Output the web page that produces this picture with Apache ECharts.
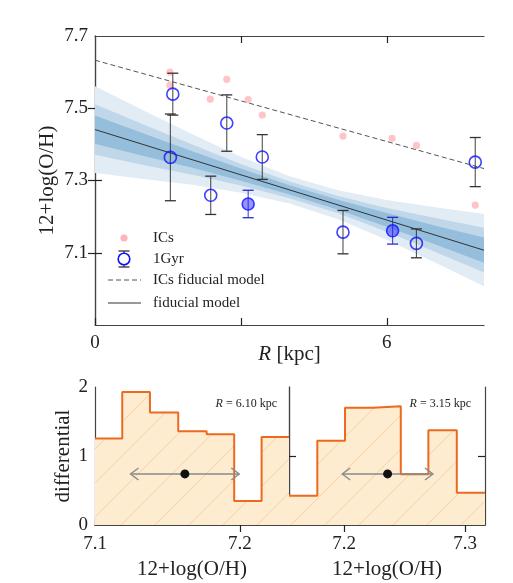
<!DOCTYPE html>
<html>
<head>
<meta charset="utf-8">
<script src="https://cdn.jsdelivr.net/npm/echarts@6/dist/echarts.min.js"></script>
<style>
html,body{margin:0;padding:0;background:#fff}
#chart{width:513px;height:583px}
</style>
</head>
<body>
<div id="chart"></div>
<script>
// top panel: ICs points
var icR  = [1.54, 1.54, 2.71, 2.37, 3.15, 3.44, 5.10, 6.11, 6.61, 7.82];
var icOH = [7.600, 7.564, 7.580, 7.525, 7.524, 7.481, 7.423, 7.417, 7.397, 7.232];
// 1Gyr points (open) and their errors
var gyrR   = [1.60, 1.55, 2.71, 2.38, 3.44, 5.10, 6.61, 7.82];
var gyrOH  = [7.539, 7.364, 7.459, 7.259, 7.365, 7.157, 7.126, 7.351];
var gyrErr = [0.058, 0.120, 0.078, 0.053, 0.062, 0.060, 0.040, 0.068];
// 1Gyr points shown below as histograms (filled)
var selR   = [3.15, 6.12];
var selOH  = [7.235, 7.161];
var selErr = [0.038, 0.037];
// models
var modelR   = [0, 8];
var icModel  = [7.633, 7.333];
var fidModel = [7.441, 7.107];
// confidence bands round the fiducial model
var bandR     = [0, 1, 2, 3, 4, 5, 6, 7, 8];
var bandMid   = [7.441, 7.399, 7.358, 7.316, 7.274, 7.233, 7.191, 7.149, 7.107];
var bandOuter = [0.120, 0.095, 0.070, 0.050, 0.038, 0.040, 0.055, 0.077, 0.100];
var bandMidW  = [0.070, 0.056, 0.042, 0.030, 0.023, 0.024, 0.033, 0.047, 0.062];
var bandInner = [0.039, 0.031, 0.023, 0.017, 0.013, 0.014, 0.019, 0.026, 0.035];

// bottom panels: histograms
var edgesA = [7.1, 7.1188, 7.1379, 7.1574, 7.1770, 7.1960, 7.2149, 7.2338];
var histA  = [1.254, 1.928, 1.63, 1.36, 1.316, 0.347, 1.277];
var edgesB = [7.1545, 7.1779, 7.2008, 7.2237, 7.2469, 7.2697, 7.2932, 7.3165];
var histB  = [0.424, 1.22, 1.70, 1.72, 0.737, 1.374, 0.468];
var meanA = 7.162, meanB = 7.236, spreadAB = 0.0375, arrowLevel = 0.74;

var FONT = 'Liberation Serif';
var INK = '#222';
var AXIS = '#444';

function bandItem(half, color) {
    return function (params, api) {
        if (params.dataIndex !== 0) return;
        var pts = [], i;
        for (i = 0; i < bandR.length; i++) pts.push(api.coord([bandR[i], bandMid[i] + half[i]]));
        for (i = bandR.length - 1; i >= 0; i--) pts.push(api.coord([bandR[i], bandMid[i] - half[i]]));
        return {type: 'polygon', shape: {points: pts}, style: {fill: color}};
    };
}

function errorBarItem(color) {
    return function (params, api) {
        var x = api.value(0);
        var a = api.coord([x, api.value(1)]), b = api.coord([x, api.value(2)]);
        var w = 5.5;
        var st = {stroke: color, lineWidth: 1.3};
        return {type: 'group', children: [
            {type: 'line', shape: {x1: a[0], y1: a[1], x2: b[0], y2: b[1]}, style: {stroke: color, lineWidth: 1.1, opacity: 0.85}},
            {type: 'line', shape: {x1: a[0] - w, y1: a[1], x2: a[0] + w, y2: a[1]}, style: st},
            {type: 'line', shape: {x1: b[0] - w, y1: b[1], x2: b[0] + w, y2: b[1]}, style: st}
        ]};
    };
}

function arrowItem(params, api) {
    var m = api.value(0), y = api.value(1), s = api.value(2);
    var l = api.coord([m - s, y]), r = api.coord([m + s, y]), c = api.coord([m, y]);
    var hx = 8, hy = 6;
    var st = {stroke: '#8a8a8a', lineWidth: 1.4, fill: null};
    return {type: 'group', children: [
        {type: 'line', shape: {x1: l[0], y1: l[1], x2: r[0], y2: r[1]}, style: st},
        {type: 'polyline', shape: {points: [[l[0] + hx, l[1] - hy], [l[0], l[1]], [l[0] + hx, l[1] + hy]]}, style: st},
        {type: 'polyline', shape: {points: [[r[0] - hx, r[1] - hy], [r[0], r[1]], [r[0] - hx, r[1] + hy]]}, style: st},
        {type: 'circle', shape: {cx: c[0], cy: c[1], r: 4.5}, style: {fill: '#111'}}
    ]};
}

function stepData(edges, vals) {
    var d = vals.map(function (v, i) { return [edges[i], v]; });
    d.push([edges[edges.length - 1], vals[vals.length - 1]]);
    return d;
}

// hatch pattern for histogram fill
var T = 34;
var hatch = document.createElement('canvas');
hatch.width = T; hatch.height = T;
(function () {
    var c = hatch.getContext('2d');
    c.fillStyle = '#feecd1';
    c.fillRect(0, 0, T, T);
    c.strokeStyle = 'rgba(247,200,140,0.7)';
    c.lineWidth = 1;
    c.beginPath();
    c.moveTo(-2, T + 2); c.lineTo(T + 2, -2);
    c.moveTo(-2, 2); c.lineTo(2, -2);
    c.moveTo(T - 2, T + 2); c.lineTo(T + 2, T - 2);
    c.stroke();
})();

function frameAxis(pos, extra) {
    var ax = {
        type: 'value', position: pos,
        axisLine: {show: true, lineStyle: {color: AXIS, width: 1.2}},
        axisTick: {show: true, inside: true, length: 7, lineStyle: {color: '#222', width: 1.2}},
        axisLabel: {show: false},
        splitLine: {show: false},
        nameMoveOverlap: false
    };
    for (var k in extra) ax[k] = extra[k];
    return ax;
}

function ticks(vals) {
    return {show: true, inside: true, length: 7, customValues: vals, lineStyle: {color: '#222', width: 1.2}};
}

var nameStyle = {fontFamily: FONT, fontSize: 21, color: INK, rich: {i: {fontFamily: FONT, fontSize: 21, fontStyle: 'italic', color: INK}}};

var chart = echarts.init(document.getElementById('chart'), null, {renderer: 'canvas'});

var option = {
    animation: false,
    backgroundColor: '#fff',
    grid: [
        {left: 95, top: 36, width: 389, height: 289, outerBoundsMode: 'none'},
        {left: 95, top: 387, width: 194, height: 138, outerBoundsMode: 'none'},
        {left: 289, top: 387, width: 196, height: 138, outerBoundsMode: 'none'}
    ],
    xAxis: [
        frameAxis('bottom', {gridIndex: 0, min: 0, max: 8, axisTick: ticks([0, 3, 6]),
            axisLabel: {show: true, customValues: [0, 6], margin: 9, fontFamily: FONT, fontSize: 19, color: INK},
            name: '{i|R} [kpc]', nameLocation: 'middle', nameGap: 19, nameTextStyle: nameStyle}),
        frameAxis('top', {gridIndex: 0, min: 0, max: 8, axisTick: ticks([3, 6])}),
        frameAxis('bottom', {gridIndex: 1, min: edgesA[0], max: edgesA[edgesA.length - 1], axisTick: ticks([7.1, 7.2]),
            axisLabel: {show: true, customValues: [7.1, 7.2], margin: 10, fontFamily: FONT, fontSize: 19, color: INK,
                formatter: function (v) { return v.toFixed(1); }},
            name: '12+log(O/H)', nameLocation: 'middle', nameGap: 34, nameTextStyle: nameStyle}),
        frameAxis('top', {gridIndex: 1, min: edgesA[0], max: edgesA[edgesA.length - 1], axisTick: ticks([7.2])}),
        frameAxis('bottom', {gridIndex: 2, min: edgesB[0], max: edgesB[edgesB.length - 1], axisTick: ticks([7.2, 7.3]),
            axisLabel: {show: true, customValues: [7.2, 7.3], margin: 10, fontFamily: FONT, fontSize: 19, color: INK,
                formatter: function (v) { return v.toFixed(1); }},
            name: '12+log(O/H)', nameLocation: 'middle', nameGap: 34, nameTextStyle: nameStyle}),
        frameAxis('top', {gridIndex: 2, min: edgesB[0], max: edgesB[edgesB.length - 1], axisTick: ticks([7.2, 7.3])})
    ],
    yAxis: [
        frameAxis('left', {gridIndex: 0, min: 6.9, max: 7.7, axisTick: ticks([7.1, 7.3, 7.5]),
            axisLabel: {show: true, customValues: [7.1, 7.3, 7.5, 7.7], margin: 7, fontFamily: FONT, fontSize: 19, color: INK,
                padding: [4, 0, 0, 0], formatter: function (v) { return v.toFixed(1); }},
            name: '12+log(O/H)', nameLocation: 'middle', nameGap: 37, nameTextStyle: nameStyle}),
        frameAxis('right', {gridIndex: 0, min: 6.9, max: 7.7, axisTick: ticks([7.1, 7.3, 7.5])}),
        frameAxis('left', {gridIndex: 1, min: 0, max: 2, axisTick: ticks([1]),
            axisLabel: {show: true, customValues: [0, 1, 2], margin: 7, fontFamily: FONT, fontSize: 19, color: INK},
            name: 'differential', nameLocation: 'middle', nameGap: 21, nameTextStyle: nameStyle}),
        frameAxis('right', {gridIndex: 1, min: 0, max: 2, axisTick: ticks([1])}),
        frameAxis('left', {gridIndex: 2, min: 0, max: 2, axisTick: ticks([1])}),
        frameAxis('right', {gridIndex: 2, min: 0, max: 2, axisTick: ticks([1])})
    ],
    graphic: [
        // legend
        {type: 'circle', shape: {cx: 124, cy: 238, r: 3.6}, style: {fill: '#ffb4ba'}},
        {type: 'line', shape: {x1: 124, y1: 251, x2: 124, y2: 267}, style: {stroke: '#333', lineWidth: 1.2}},
        {type: 'line', shape: {x1: 118.5, y1: 251, x2: 129.5, y2: 251}, style: {stroke: '#333', lineWidth: 1.3}},
        {type: 'line', shape: {x1: 118.5, y1: 267, x2: 129.5, y2: 267}, style: {stroke: '#333', lineWidth: 1.3}},
        {type: 'circle', shape: {cx: 124, cy: 259, r: 5.8}, style: {fill: '#fff', stroke: '#1010ff', lineWidth: 1.6}},
        {type: 'line', shape: {x1: 108, y1: 280, x2: 141, y2: 280}, style: {stroke: '#555', lineWidth: 1, lineDash: [5, 3]}},
        {type: 'line', shape: {x1: 108, y1: 303, x2: 141, y2: 303}, style: {stroke: '#333', lineWidth: 1}},
        {type: 'text', x: 153, y: 238, style: {text: 'ICs', font: '15px "Liberation Serif"', fill: INK, verticalAlign: 'middle'}},
        {type: 'text', x: 153, y: 259, style: {text: '1Gyr', font: '15px "Liberation Serif"', fill: INK, verticalAlign: 'middle'}},
        {type: 'text', x: 153, y: 280, style: {text: 'ICs fiducial model', font: '15px "Liberation Serif"', fill: INK, verticalAlign: 'middle'}},
        {type: 'text', x: 153, y: 303, style: {text: 'fiducial model', font: '15px "Liberation Serif"', fill: INK, verticalAlign: 'middle'}},
        // panel labels
        {type: 'text', x: 277, y: 404, z: 10, style: {text: '{i|R} = 6.10 kpc', font: '12px "Liberation Serif"', fill: INK,
            align: 'right', verticalAlign: 'middle', rich: {i: {fontStyle: 'italic', fontFamily: FONT, fontSize: 12}}}},
        {type: 'text', x: 471, y: 404, z: 10, style: {text: '{i|R} = 3.15 kpc', font: '12px "Liberation Serif"', fill: INK,
            align: 'right', verticalAlign: 'middle', rich: {i: {fontStyle: 'italic', fontFamily: FONT, fontSize: 12}}}}
    ],
    series: [
        {type: 'custom', xAxisIndex: 0, yAxisIndex: 0, clip: true, z: 1,
            renderItem: bandItem(bandOuter, '#e2ecf5'),
            data: bandR.map(function (r, i) { return [r, bandMid[i]]; })},
        {type: 'custom', xAxisIndex: 0, yAxisIndex: 0, clip: true, z: 1,
            renderItem: bandItem(bandMidW, '#c0d7ea'),
            data: bandR.map(function (r, i) { return [r, bandMid[i]]; })},
        {type: 'custom', xAxisIndex: 0, yAxisIndex: 0, clip: true, z: 1,
            renderItem: bandItem(bandInner, '#94bedc'),
            data: bandR.map(function (r, i) { return [r, bandMid[i]]; })},
        {type: 'line', xAxisIndex: 0, yAxisIndex: 0, z: 2, symbol: 'none',
            lineStyle: {color: '#333', width: 1},
            data: modelR.map(function (r, i) { return [r, fidModel[i]]; })},
        {type: 'line', xAxisIndex: 0, yAxisIndex: 0, z: 2, symbol: 'none',
            lineStyle: {color: '#555', width: 1, type: [5, 3]},
            data: modelR.map(function (r, i) { return [r, icModel[i]]; })},
        {type: 'scatter', xAxisIndex: 0, yAxisIndex: 0, z: 3, symbolSize: 7.2,
            itemStyle: {color: '#ffb4ba'},
            data: icR.map(function (r, i) { return [r, icOH[i]]; })},
        {type: 'custom', xAxisIndex: 0, yAxisIndex: 0, z: 4,
            renderItem: errorBarItem('#333'), encode: {x: 0, y: [1, 2]},
            data: gyrR.map(function (r, i) { return [r, gyrOH[i] - gyrErr[i], gyrOH[i] + gyrErr[i]]; })},
        {type: 'custom', xAxisIndex: 0, yAxisIndex: 0, z: 4,
            renderItem: errorBarItem('#2a2ac8'), encode: {x: 0, y: [1, 2]},
            data: selR.map(function (r, i) { return [r, selOH[i] - selErr[i], selOH[i] + selErr[i]]; })},
        {type: 'scatter', xAxisIndex: 0, yAxisIndex: 0, z: 5, symbolSize: 12,
            itemStyle: {color: 'rgba(255,255,255,0)', borderColor: '#1010ff', borderWidth: 1.6},
            data: gyrR.map(function (r, i) { return [r, gyrOH[i]]; })},
        {type: 'scatter', xAxisIndex: 0, yAxisIndex: 0, z: 5, symbolSize: 12,
            itemStyle: {color: 'rgba(40,40,255,0.62)', borderColor: '#1010ff', borderWidth: 1.6},
            data: selR.map(function (r, i) { return [r, selOH[i]]; })},

        {type: 'line', xAxisIndex: 2, yAxisIndex: 2, step: 'end', symbol: 'none', z: 2,
            lineStyle: {color: '#eb6a1f', width: 2},
            areaStyle: {color: {image: hatch, repeat: 'repeat'}, opacity: 1},
            data: stepData(edgesA, histA)},
        {type: 'custom', xAxisIndex: 2, yAxisIndex: 2, z: 3, renderItem: arrowItem,
            data: [[meanA, arrowLevel, spreadAB]]},
        {type: 'line', xAxisIndex: 4, yAxisIndex: 4, step: 'end', symbol: 'none', z: 2,
            lineStyle: {color: '#eb6a1f', width: 2},
            areaStyle: {color: {image: hatch, repeat: 'repeat'}, opacity: 1},
            data: stepData(edgesB, histB)},
        {type: 'custom', xAxisIndex: 4, yAxisIndex: 4, z: 3, renderItem: arrowItem,
            data: [[meanB, arrowLevel, spreadAB]]}
    ]
};

chart.setOption(option);
</script>
</body>
</html>
